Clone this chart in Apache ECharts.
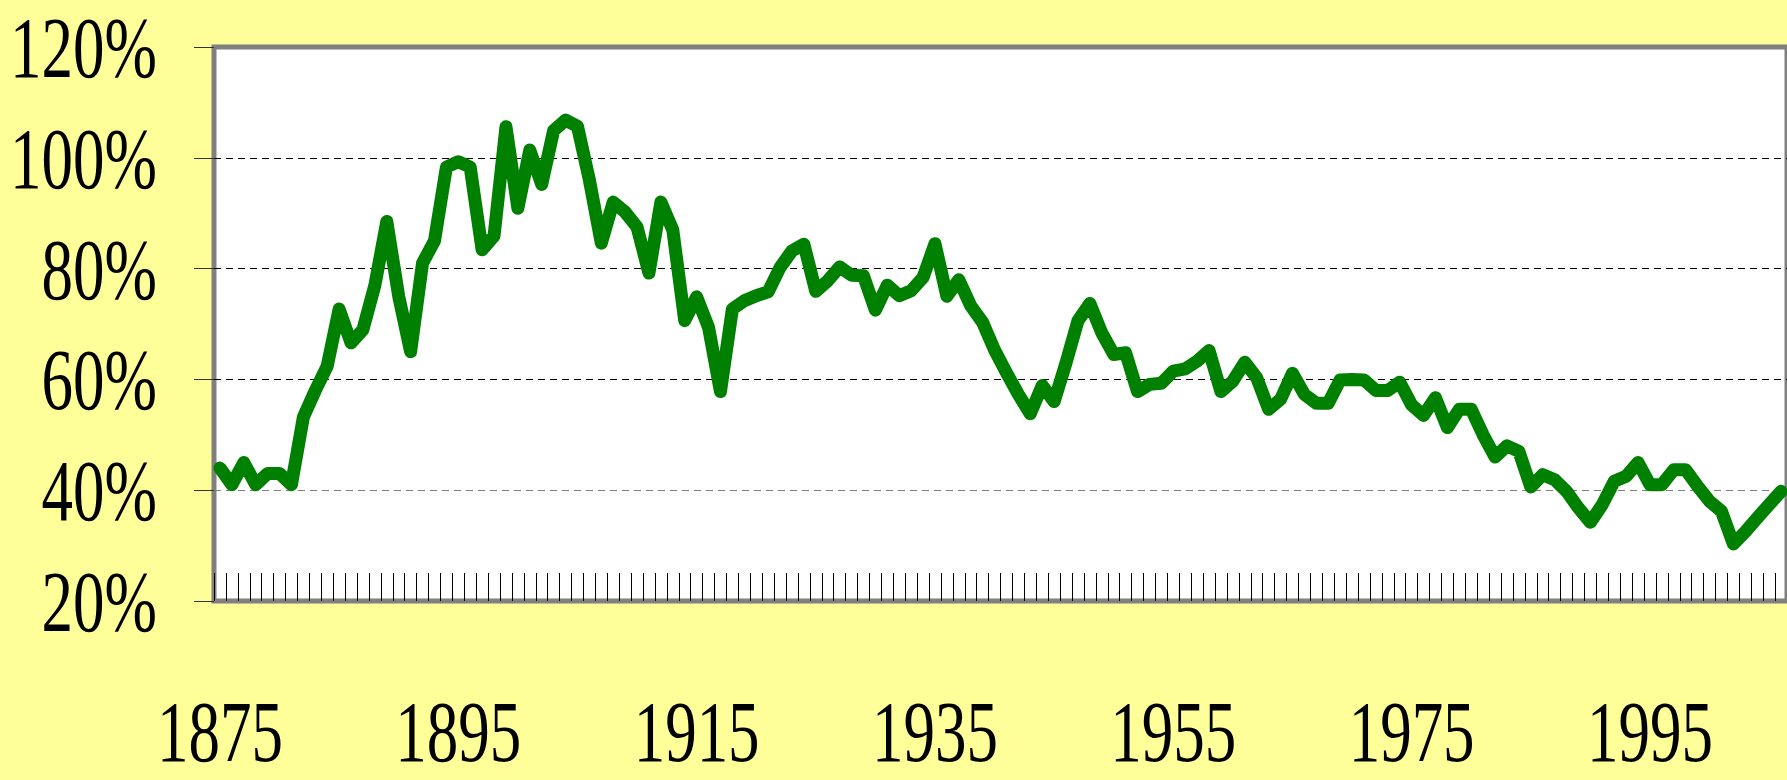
<!DOCTYPE html>
<html>
<head>
<meta charset="utf-8">
<script src="https://cdn.jsdelivr.net/npm/echarts@6/dist/echarts.min.js"></script>
<style>
html,body{margin:0;padding:0;background:#FFFF99;}
#c{width:1787px;height:780px;}
</style>
</head>
<body>
<div id="c"></div>
<script>
const startYear = 1875;
const endYear = 2006;
const years = [];
for (let y = startYear; y <= endYear; y++) years.push(String(y));

const values = [
  44, 41, 45, 41, 43, 43, 41, 53.2, 58, 62.4,          // 1875-1884
  72.7, 66.6, 69, 77, 88.5, 75, 65, 81, 85, 98.3,      // 1885-1894
  99.3, 98.3, 83.4, 85.9, 105.6, 90.9, 101.4, 95.2, 104.9, 106.8, // 1895-1904
  105.7, 96, 84.6, 92, 90.2, 87.5, 79.2, 92, 87, 70.6, // 1905-1914
  74.9, 69.4, 57.8, 72.7, 74.2, 75.1, 75.8, 80.2, 83.2, 84.4, // 1915-1924
  75.9, 77.8, 80.3, 78.8, 78.7, 72.5, 77, 75.1, 76, 78.4,     // 1925-1934
  84.5, 75, 78, 73.3, 70.3, 65.3, 61.2, 57.3, 53.8, 58.9,     // 1935-1944
  56, 63, 70.6, 73.7, 68.4, 64.5, 64.8, 57.8, 59.1, 59.3,     // 1945-1954
  61.5, 61.9, 63.3, 65.2, 57.8, 59.7, 63.1, 60.3, 54.6, 56.4, // 1955-1964
  61.1, 57.3, 55.7, 55.7, 59.9, 60, 59.9, 58, 58, 59.5,       // 1965-1974
  55.4, 53.5, 56.7, 51.3, 54.6, 54.6, 50, 46, 48, 47,         // 1975-1984
  40.6, 42.8, 41.9, 39.8, 36.8, 34.2, 37.4, 41.6, 42.5, 45,   // 1985-1994
  41, 41, 43.7, 43.7, 40.7, 38, 36.2, 30.3, 32.5, 35,         // 1995-2004
  37.4, 39.8                                                  // 2005-2006
];

const xTickLabels = ['1875', '1895', '1915', '1935', '1955', '1975', '1995'];
const yTicks = [20, 40, 60, 80, 100, 120];
const yTickLabels = ['20%', '40%', '60%', '80%', '100%', '120%'];

const chart = echarts.init(document.getElementById('c'), null, {renderer: 'svg', width: 1787, height: 780});

const gridLeft = 214, gridTop = 47, gridBottom = 179, gridRight = -7;

chart.setOption({
  backgroundColor: '#FFFF99',
  animation: false,
  grid: {
    left: gridLeft, top: gridTop, right: gridRight, bottom: gridBottom,
    show: true, backgroundColor: '#FFFFFF', borderColor: '#808080', borderWidth: 5
  },
  xAxis: {
    type: 'category',
    data: years,
    boundaryGap: true,
    axisLine: {show: false},
    axisTick: {show: true, inside: true, length: 28, interval: 0, lineStyle: {color: '#000000', width: 1}},
    axisLabel: {show: false},
    splitLine: {show: false}
  },
  yAxis: {
    type: 'value',
    min: 20, max: 120, interval: 20,
    axisLine: {show: false},
    axisTick: {show: true, length: 20, lineStyle: {color: '#333333', width: 1}},
    axisLabel: {show: false},
    splitLine: {
      show: true,
      lineStyle: {type: [7, 5], width: 1, color: ['#808080', '#808080', '#000000', '#000000', '#000000', '#808080']}
    }
  },
  series: [{
    type: 'line',
    data: values,
    symbol: 'none',
    showSymbol: false,
    silent: true,
    lineStyle: {color: '#008000', width: 13, cap: 'round', join: 'round'},
    emphasis: {disabled: true}
  }]
});

const textBase = {
  fontFamily: 'Liberation Serif',
  fontSize: 63,
  fill: '#000000'
};
const stretch = 1.36;
const gfx = [];
xTickLabels.forEach(function (t) {
  const px = chart.convertToPixel({xAxisIndex: 0}, t);
  gfx.push({
    type: 'text', x: px, y: 732, scaleY: stretch, silent: true,
    style: Object.assign({text: t, textAlign: 'center', textVerticalAlign: 'middle', align: 'center', verticalAlign: 'middle'}, textBase)
  });
});
yTicks.forEach(function (v, i) {
  const py = chart.convertToPixel({yAxisIndex: 0}, v);
  gfx.push({
    type: 'text', x: gridLeft - 57, y: py + 1, scaleY: stretch, silent: true,
    style: Object.assign({text: yTickLabels[i], textAlign: 'right', textVerticalAlign: 'middle', align: 'right', verticalAlign: 'middle'}, textBase)
  });
});
chart.setOption({graphic: {elements: gfx}});
</script>
</body>
</html>
